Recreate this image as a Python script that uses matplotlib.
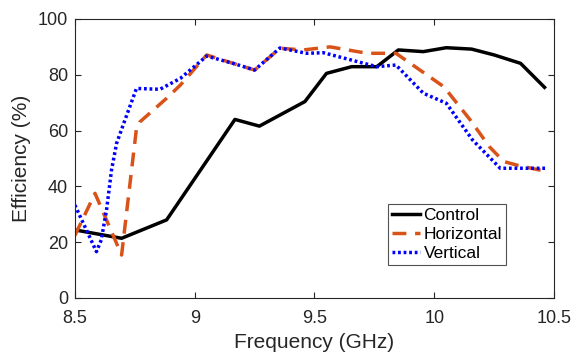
import matplotlib.pyplot as plt

plt.rcParams['font.family'] = ['Liberation Sans', 'DejaVu Sans']

freq_control = [8.5, 8.695, 8.883, 9.168, 9.27, 9.46, 9.55, 9.655, 9.76, 9.85, 9.954, 10.05, 10.156, 10.25, 10.36, 10.46]
eff_control = [24.4, 21.4, 28.0, 64.0, 61.6, 70.4, 80.5, 82.9, 82.9, 88.9, 88.3, 89.7, 89.2, 87.1, 84.1, 75.5]

freq_horiz = [8.5, 8.584, 8.695, 8.757, 8.77, 8.883, 8.94, 9.05, 9.16, 9.25, 9.356, 9.453, 9.565, 9.72, 9.84, 10.04, 10.15, 10.23, 10.29, 10.35, 10.47]
eff_horiz = [22.4, 37.5, 15.4, 60.8, 63.0, 71.6, 76.3, 87.1, 84.1, 81.7, 89.5, 88.9, 90.0, 87.7, 87.7, 75.7, 63.8, 54.2, 48.9, 47.5, 45.3]

freq_vert = [8.5, 8.59, 8.61, 8.632, 8.653, 8.674, 8.709, 8.757, 8.855, 8.94, 9.05, 9.16, 9.25, 9.356, 9.467, 9.537, 9.76, 9.84, 9.954, 10.05, 10.16, 10.275, 10.47]
eff_vert = [33.3, 16.6, 20.8, 31.5, 45.9, 55.4, 63.8, 75.1, 74.8, 78.7, 86.7, 84.1, 81.7, 89.6, 87.7, 87.9, 82.9, 83.5, 73.4, 69.8, 56.6, 46.5, 46.5]

fig = plt.figure(figsize=(5.76, 3.58), dpi=100)
ax = fig.add_axes([0.130, 0.1676, 0.832, 0.7794])

ax.plot(freq_control, eff_control, color='k', lw=2.5, label='Control')
ax.plot(freq_horiz, eff_horiz, color='#D95319', lw=2.5, ls=(0, (4, 2.5)), label='Horizontal')
ax.plot(freq_vert, eff_vert, color='#0000FF', lw=2.5, ls=(0, (0.8, 0.8)), label='Vertical')

ax.set_xlim(8.5, 10.5)
ax.set_ylim(0, 100)
ax.set_xticks([8.5, 9, 9.5, 10, 10.5])
ax.set_xticklabels(['8.5', '9', '9.5', '10', '10.5'])
ax.set_yticks([0, 20, 40, 60, 80, 100])
ax.tick_params(direction='in', top=True, right=True, labelsize=13, colors='#262626', length=4)
ax.tick_params(axis='x', pad=9)
ax.tick_params(axis='y', pad=5)
for s in ax.spines.values():
    s.set_color('#262626')
    s.set_linewidth(0.8)
ax.set_xlabel('Frequency (GHz)', fontsize=15, color='#262626', labelpad=4)
ax.set_ylabel('Efficiency (%)', fontsize=15, color='#262626', labelpad=5)

leg = ax.legend(loc='upper left', bbox_to_anchor=(388 / 576, 1 - 204 / 358), bbox_transform=fig.transFigure,
                fontsize=12.5, frameon=True, fancybox=False, handlelength=1.6, handletextpad=0.2,
                borderpad=0.25, labelspacing=0.2, borderaxespad=0)
leg.get_frame().set_edgecolor('#262626')
leg.get_frame().set_linewidth(0.8)

plt.savefig('out.png', dpi=100)
